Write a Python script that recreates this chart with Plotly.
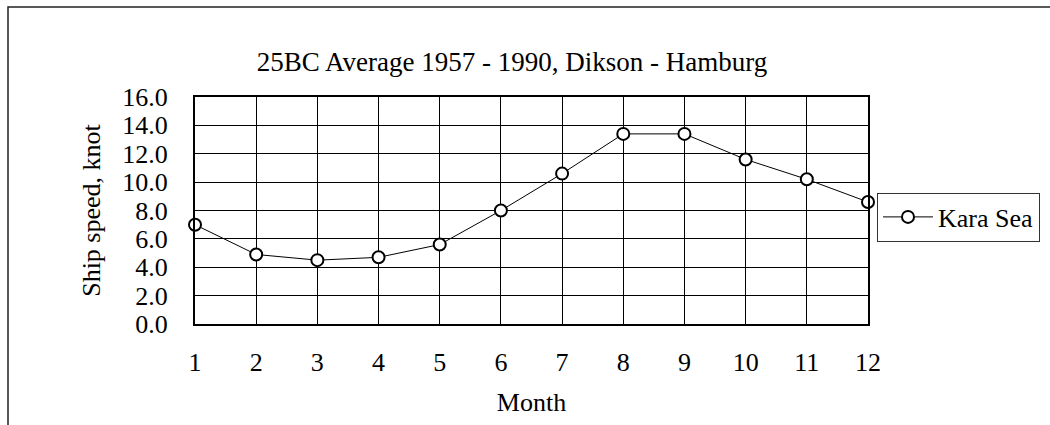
import plotly.graph_objects as go

# Monthly average ship speed, Dikson - Hamburg route
months = [1, 2, 3, 4, 5, 6, 7, 8, 9, 10, 11, 12]
kara_sea_speed = [7.0, 4.9, 4.5, 4.7, 5.6, 8.0, 10.6, 13.4, 13.4, 11.6, 10.2, 8.6]
series_name = "Kara Sea"
chart_title = "25BC Average 1957 - 1990, Dikson - Hamburg"
x_title = "Month"
y_title = "Ship speed, knot"

W, H = 1050, 425
L, R, T, B = 195, 182, 97, 101
pw, ph = W - L - R, H - T - B

FONT = "Liberation Serif"
FS = 26


def serif(size=FS):
    return dict(family=FONT, size=size, color="black")


fig = go.Figure()
fig.add_trace(go.Scatter(
    x=months, y=kara_sea_speed, name=series_name,
    mode="lines+markers",
    line=dict(color="black", width=1),
    marker=dict(symbol="circle", size=12, color="white",
                line=dict(color="black", width=2)),
    cliponaxis=False,
))

# outer chart frame (top and left edges visible)
fig.add_shape(type="rect", xref="paper", yref="paper",
              x0=(8 - L) / pw, x1=3, y0=-3, y1=(H - B - 7) / ph,
              line=dict(color="#222", width=1.5), fillcolor="rgba(0,0,0,0)",
              layer="below")

fig.update_layout(
    width=W, height=H,
    margin=dict(l=L, r=R, t=T, b=B, autoexpand=False),
    paper_bgcolor="white", plot_bgcolor="white",
    font=serif(),
    title=dict(text=chart_title, x=(512 - L) / pw, xref="paper", xanchor="center",
               y=1 - 62 / H, yanchor="middle", font=serif(27)),
    showlegend=True,
    legend=dict(x=(877 - L) / pw, xanchor="left", y=(H - B - 217) / ph, yanchor="middle",
                bordercolor="#333", borderwidth=1, bgcolor="white",
                font=serif(), itemwidth=50),
    xaxis=dict(range=[1, 12], tickvals=months, ticktext=[str(m) for m in months],
               tickfont=serif(),
               showgrid=True, gridcolor="black", gridwidth=1,
               showline=True, linecolor="black", linewidth=2, mirror=True,
               ticks="inside", ticklen=4, tickcolor="black",
               ticklabelstandoff=14, zeroline=False,
               title=dict(text=x_title, standoff=17, font=serif())),
    yaxis=dict(range=[0, 16], dtick=2, tickformat=".1f",
               tickfont=serif(),
               showgrid=True, gridcolor="black", gridwidth=1,
               showline=True, linecolor="black", linewidth=2, mirror=True,
               ticks="inside", ticklen=4, tickcolor="black",
               ticklabelstandoff=20, zeroline=False,
               title=dict(text=y_title, standoff=14, font=serif())),
)

fig.write_html("out.html")
